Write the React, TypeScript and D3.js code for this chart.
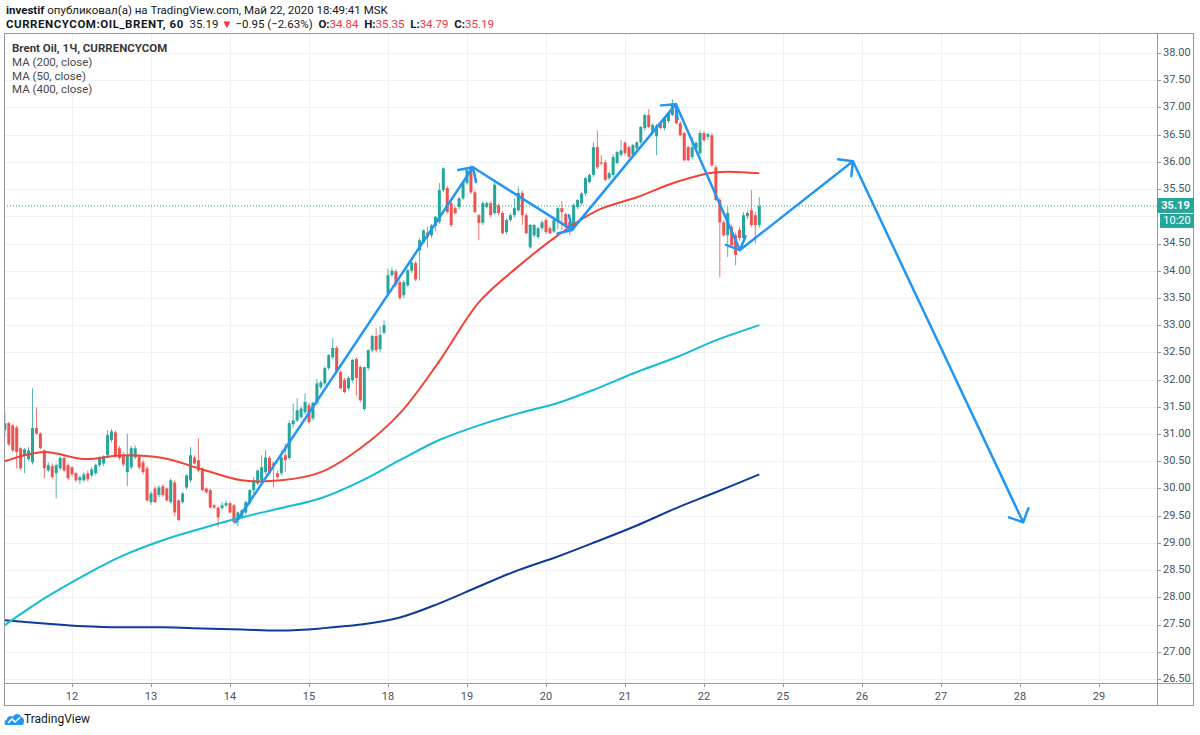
import React from 'react';
import * as d3 from 'd3';

// hourly candles, [open, high, low, close], one array per trading day
type Bar = [number, number, number, number];

const may11: Bar[] = [
  [31.07, 31.40, 30.95, 31.20], [31.20, 31.22, 30.78, 30.81], [31.16, 31.18, 30.67, 30.70],
  [31.12, 31.16, 30.37, 30.67], [30.74, 30.76, 30.33, 30.37], [30.61, 30.74, 30.28, 30.72],
  [30.54, 30.76, 30.50, 30.70], [30.48, 31.84, 30.44, 31.11], [31.11, 31.49, 30.98, 31.01],
  [31.01, 31.03, 30.72, 30.74], [30.70, 30.72, 30.19, 30.37], [30.33, 30.48, 30.30, 30.43],
  [30.41, 30.46, 30.17, 30.21], [30.28, 30.46, 29.82, 30.43], [30.37, 30.59, 30.33, 30.56],
  [30.56, 30.59, 30.30, 30.33], [30.43, 30.46, 30.15, 30.19],
];
const may12: Bar[] = [
  [30.39, 30.41, 30.22, 30.26], [30.28, 30.30, 30.12, 30.15], [30.15, 30.24, 30.08, 30.21],
  [30.15, 30.30, 30.12, 30.26], [30.28, 30.33, 30.13, 30.17], [30.24, 30.39, 30.20, 30.35],
  [30.28, 30.46, 30.24, 30.43], [30.43, 30.59, 30.39, 30.56], [30.46, 30.61, 30.41, 30.59],
  [30.61, 31.07, 30.57, 30.98], [30.89, 31.09, 30.85, 31.05], [31.03, 31.07, 30.57, 30.61],
  [30.74, 30.78, 30.52, 30.56], [30.61, 30.67, 30.40, 30.44], [30.30, 31.01, 30.04, 30.61],
  [30.39, 30.78, 30.35, 30.74], [30.57, 30.79, 30.54, 30.74], [30.59, 30.63, 30.35, 30.39],
  [30.48, 30.52, 30.26, 30.30], [30.37, 30.41, 29.76, 29.78],
];
const may13: Bar[] = [
  [29.75, 29.95, 29.70, 29.91], [30.00, 30.04, 29.73, 29.75], [29.88, 30.06, 29.84, 30.02],
  [30.04, 30.08, 29.85, 29.88], [30.00, 30.02, 29.76, 29.78], [29.75, 30.19, 29.72, 30.15],
  [30.11, 30.15, 29.49, 29.56], [29.78, 29.80, 29.40, 29.42], [29.75, 29.93, 29.72, 29.91],
  [30.02, 30.26, 29.98, 30.24], [30.15, 30.76, 30.11, 30.61], [30.57, 30.61, 30.44, 30.46],
  [30.52, 30.92, 30.30, 30.33], [30.37, 30.39, 29.95, 29.97], [30.00, 30.02, 29.90, 29.93],
  [29.97, 30.00, 29.63, 29.65], [29.69, 29.72, 29.62, 29.65], [29.65, 29.67, 29.29, 29.47],
  [29.64, 29.75, 29.60, 29.69], [29.69, 29.78, 29.66, 29.73],
];
const may14: Bar[] = [
  [29.73, 29.76, 29.54, 29.56], [29.69, 29.72, 29.34, 29.38], [29.42, 29.58, 29.31, 29.56],
  [29.47, 29.62, 29.44, 29.60], [29.56, 29.78, 29.52, 29.75], [29.73, 29.99, 29.70, 29.97],
  [29.97, 30.21, 29.91, 30.15], [30.09, 30.35, 30.06, 30.33], [30.15, 30.61, 30.12, 30.39],
  [30.30, 30.70, 30.26, 30.57], [30.56, 30.60, 30.26, 30.28], [30.46, 30.50, 30.02, 30.43],
  [30.28, 30.33, 30.17, 30.21], [30.28, 30.70, 30.24, 30.57], [30.61, 30.83, 30.30, 30.52],
  [30.56, 31.25, 30.52, 31.20], [31.18, 31.56, 31.12, 31.25], [31.25, 31.66, 31.22, 31.44],
  [31.31, 31.51, 31.28, 31.47], [31.40, 31.75, 31.36, 31.59],
];
const may15: Bar[] = [
  [31.53, 31.57, 31.18, 31.22], [31.29, 31.60, 31.25, 31.57], [31.57, 32.01, 31.53, 31.93],
  [31.86, 31.99, 31.82, 31.95], [31.93, 32.24, 31.90, 32.21], [32.21, 32.47, 32.17, 32.45],
  [32.41, 32.76, 32.38, 32.58], [32.58, 32.62, 32.10, 32.14], [32.14, 32.17, 31.82, 31.84],
  [31.99, 32.03, 31.75, 31.77], [31.84, 32.06, 31.80, 32.03], [31.99, 32.38, 31.95, 32.36],
  [32.38, 32.41, 31.71, 32.03], [32.23, 32.26, 31.58, 31.62], [31.46, 32.24, 31.42, 32.23],
  [32.21, 32.56, 32.17, 32.54], [32.54, 32.82, 32.50, 32.80], [32.80, 32.95, 32.50, 32.54],
  [32.56, 32.98, 32.50, 32.82], [32.86, 33.09, 32.84, 33.00],
];
const may18: Bar[] = [
  [33.58, 34.04, 33.55, 33.92], [33.92, 34.06, 33.88, 34.00], [33.99, 34.03, 33.70, 33.74],
  [33.79, 33.83, 33.47, 33.50], [33.55, 33.83, 33.50, 33.79], [33.73, 34.04, 33.70, 34.01],
  [34.00, 34.19, 33.96, 34.15], [34.14, 34.18, 33.81, 33.84], [34.37, 34.60, 33.82, 34.56],
  [34.52, 34.76, 34.50, 34.74], [34.70, 34.81, 34.43, 34.62], [34.65, 34.86, 34.60, 34.83],
  [34.82, 35.01, 34.73, 34.99], [34.90, 35.61, 34.86, 35.48], [35.48, 35.90, 35.44, 35.88],
  [35.52, 35.56, 35.05, 35.08], [35.24, 35.28, 34.80, 34.84], [35.15, 35.18, 35.03, 35.06],
  [35.17, 35.36, 35.13, 35.33], [35.33, 35.65, 35.30, 35.63],
];
const may19: Bar[] = [
  [35.61, 35.90, 35.58, 35.85], [35.88, 35.94, 35.41, 35.44], [35.44, 35.48, 35.06, 35.08],
  [35.02, 35.04, 34.56, 34.88], [34.88, 35.28, 34.84, 35.24], [35.17, 35.28, 35.14, 35.24],
  [35.24, 35.28, 34.98, 35.02], [35.06, 35.64, 35.02, 35.58], [35.20, 35.24, 35.02, 35.06],
  [35.06, 35.10, 34.67, 34.69], [34.71, 34.96, 34.67, 34.93], [34.93, 35.06, 34.90, 35.02],
  [35.02, 35.33, 34.98, 35.15], [35.11, 35.54, 35.08, 35.43], [35.43, 35.47, 34.84, 35.02],
  [35.02, 35.06, 34.67, 34.69], [34.43, 34.86, 34.41, 34.84], [34.65, 34.86, 34.61, 34.84],
  [34.62, 34.81, 34.58, 34.78], [34.78, 34.92, 34.74, 34.89],
];
const may20: Bar[] = [
  [34.93, 34.97, 34.67, 34.71], [34.78, 34.82, 34.67, 34.69], [34.72, 34.96, 34.70, 34.93],
  [34.90, 35.17, 34.76, 35.15], [35.15, 35.28, 34.75, 35.08], [35.04, 35.07, 34.78, 34.80],
  [34.90, 34.97, 34.65, 34.75], [34.78, 35.23, 34.74, 35.21], [35.17, 35.32, 35.13, 35.30],
  [35.24, 35.45, 35.20, 35.42], [35.42, 35.72, 35.38, 35.70], [35.63, 35.79, 35.60, 35.76],
  [35.76, 36.36, 35.72, 36.27], [36.27, 36.58, 35.87, 35.90], [35.99, 36.12, 35.94, 35.97],
  [35.99, 36.04, 35.64, 35.67], [35.70, 35.82, 35.66, 35.79], [35.76, 36.14, 35.72, 36.09],
  [35.98, 36.20, 35.95, 36.18], [36.13, 36.40, 36.10, 36.21],
];
const may21: Bar[] = [
  [36.35, 36.38, 36.12, 36.16], [36.27, 36.30, 36.06, 36.09], [36.13, 36.33, 36.10, 36.31],
  [36.25, 36.38, 36.22, 36.36], [36.36, 36.66, 36.32, 36.64], [36.62, 36.88, 36.58, 36.86],
  [36.86, 36.97, 36.62, 36.64], [36.53, 36.70, 36.50, 36.68], [36.47, 36.70, 36.12, 36.66],
  [36.71, 36.75, 36.60, 36.62], [36.62, 36.83, 36.58, 36.80], [36.75, 36.92, 36.71, 36.90],
  [36.86, 37.15, 36.84, 37.08], [37.01, 37.08, 36.69, 36.71], [36.71, 36.75, 36.47, 36.49],
  [36.53, 36.56, 36.01, 36.03], [36.27, 36.30, 36.01, 36.03], [36.09, 36.46, 36.05, 36.27],
  [36.25, 36.38, 36.22, 36.35], [36.16, 36.58, 36.12, 36.53],
];
const may22: Bar[] = [
  [36.53, 36.56, 36.36, 36.40], [36.46, 36.53, 36.40, 36.51], [36.49, 36.53, 35.90, 35.94],
  [35.90, 35.95, 35.28, 35.30], [35.30, 35.34, 33.88, 34.89], [34.89, 34.93, 34.63, 34.65],
  [34.65, 35.17, 34.25, 35.06], [34.80, 34.85, 34.42, 34.47], [34.65, 34.70, 34.10, 34.29],
  [34.75, 34.80, 34.55, 34.60], [34.60, 35.08, 34.56, 35.02], [35.00, 35.10, 34.95, 35.06],
  [35.11, 35.48, 34.80, 34.84], [35.02, 35.08, 34.50, 34.84], [34.84, 35.35, 34.79, 35.19],
];

// time axis: bar index where each day starts
const dayLabels = ['12', '13', '14', '15', '18', '19', '20', '21', '22', '25', '26', '27', '28', '29'];
const dayStarts = [17, 37, 57, 77, 97, 117, 137, 157, 177, 197, 217, 237, 257, 277];

// moving averages read at these bar indexes
const maIdx = [0, 10, 20, 30, 40, 50, 60, 70, 80, 90, 100, 110, 120, 130, 140, 150, 160, 170, 180, 191];
const ma50 = [30.50, 30.67, 30.54, 30.61, 30.56, 30.35, 30.15, 30.15, 30.30, 30.74, 31.38, 32.34, 33.42, 34.08, 34.65, 35.11, 35.35, 35.63, 35.81, 35.79];
const ma200 = [27.49, 27.98, 28.40, 28.77, 29.05, 29.27, 29.47, 29.64, 29.82, 30.13, 30.52, 30.89, 31.16, 31.38, 31.57, 31.84, 32.14, 32.41, 32.72, 33.00];
const ma400 = [27.58, 27.52, 27.47, 27.45, 27.45, 27.43, 27.41, 27.39, 27.43, 27.50, 27.63, 27.89, 28.20, 28.50, 28.75, 29.03, 29.32, 29.64, 29.93, 30.26];

// hand-drawn arrow path (bar index, price)
const arrowIdx = [58.5, 118.5, 143.6, 169.9, 186.1, 214.7, 257.8];
const arrowPrice = [29.38, 35.90, 34.75, 37.06, 34.38, 36.01, 29.38];

const lastPrice = 35.19;

const UP = '#26a69a';
const DOWN = '#ef5350';
const GRID = '#eef1f6';
const BORDER = '#9598a1';
const TXT = '#4c525e';
const RED = '#f23645';
const FONT = 'Roboto, "Open Sans", sans-serif';

const plot = { left: 4, top: 33, right: 1157, bottom: 683 };

const App = () => {
  const bars = [may11, may12, may13, may14, may15, may18, may19, may20, may21, may22].flat();

  const x = d3.scaleLinear().domain([0, 260]).range([4.85, 1031.85]);
  const y = d3.scaleLinear().domain([26.5, 38]).range([679, 53]);

  const priceTicks = d3.range(26.5, 38.01, 0.5);
  const tagY = y(lastPrice);

  const maLine = (vals: number[]) =>
    d3.line<number>()
      .x((_, k) => x(maIdx[k]))
      .y(v => y(v))
      .curve(d3.curveCatmullRom)(vals) || '';

  const arrows = arrowIdx.slice(1).map((idx, k) => {
    const x0 = x(arrowIdx[k]), y0 = y(arrowPrice[k]);
    const x1 = x(idx), y1 = y(arrowPrice[k + 1]);
    const back = Math.atan2(y0 - y1, x0 - x1);
    const a = 0.8, len = 15;
    const h1 = [x1 + len * Math.cos(back + a), y1 + len * Math.sin(back + a)];
    const h2 = [x1 + len * Math.cos(back - a), y1 + len * Math.sin(back - a)];
    return `M${x0},${y0}L${x1},${y1}M${h1[0]},${h1[1]}L${x1},${y1}L${h2[0]},${h2[1]}`;
  });

  return (
    <div style={{ position: 'absolute', left: 0, top: 0 }}>
      <svg width={1200} height={735} style={{ display: 'block', background: '#fff' }}>
        <defs>
          <clipPath id="plotClip">
            <rect x={plot.left} y={plot.top} width={plot.right - plot.left} height={plot.bottom - plot.top} />
          </clipPath>
        </defs>

        {/* header */}
        <text x={6} y={14} fontFamily={FONT} fontSize={11.5} fill="#131722">
          <tspan fontWeight="bold">investif</tspan>
          <tspan> опубликовал(а) на TradingView.com, Май 22, 2020 18:49:41 MSK</tspan>
        </text>
        <text x={6} y={28} fontFamily={FONT} fontSize={11.5} fill="#131722" style={{ whiteSpace: 'pre' }}>
          <tspan fontWeight="bold" letterSpacing={0.55}>CURRENCYCOM:OIL_BRENT, 60</tspan>
          <tspan>  35.19 </tspan>
          <tspan fill={RED}>▼</tspan>
          <tspan> −0.95 (−2.63%)  </tspan>
          <tspan fontWeight="bold">O:</tspan><tspan fill={RED}>34.84  </tspan>
          <tspan fontWeight="bold">H:</tspan><tspan fill={RED}>35.35  </tspan>
          <tspan fontWeight="bold">L:</tspan><tspan fill={RED}>34.79  </tspan>
          <tspan fontWeight="bold">C:</tspan><tspan fill={RED}>35.19</tspan>
        </text>

        {/* grid */}
        <g>
          {priceTicks.map(p => (
            <line key={'h' + p} x1={plot.left} x2={plot.right} y1={Math.round(y(p)) + 0.5} y2={Math.round(y(p)) + 0.5} stroke={GRID} />
          ))}
          {dayStarts.map(d => (
            <line key={'v' + d} x1={Math.round(x(d)) + 0.5} x2={Math.round(x(d)) + 0.5} y1={plot.top} y2={plot.bottom} stroke={GRID} />
          ))}
        </g>

        {/* legend */}
        <g fontFamily={FONT} fontSize={11.5} fill="#4a4a4a">
          <text x={12} y={52} fontWeight="bold" fill="#3a3a3a">Brent Oil, 1Ч, CURRENCYCOM</text>
          <text x={12} y={66}>MA (200, close)</text>
          <text x={12} y={80}>MA (50, close)</text>
          <text x={12} y={93}>MA (400, close)</text>
        </g>

        <g clipPath="url(#plotClip)">
          {/* last price line */}
          <line x1={plot.left} x2={plot.right} y1={tagY} y2={tagY} stroke={UP} strokeDasharray="1,2" />

          {/* candles */}
          {bars.map((b, i) => {
            const [o, h, l, c] = b;
            const col = c >= o ? UP : DOWN;
            const cx = x(i);
            const top = y(Math.max(o, c));
            const bh = Math.max(1, y(Math.min(o, c)) - top);
            return (
              <g key={i}>
                <line x1={cx} x2={cx} y1={y(h)} y2={y(l)} stroke={col} strokeWidth={1} opacity={0.8} />
                <rect x={cx - 1.5} y={top} width={3} height={bh} fill={col} />
              </g>
            );
          })}

          {/* moving averages */}
          <path d={maLine(ma400)} fill="none" stroke="#0f3a9c" strokeWidth={2} />
          <path d={maLine(ma200)} fill="none" stroke="#13bcd6" strokeWidth={2} />
          <path d={maLine(ma50)} fill="none" stroke="#f44336" strokeWidth={2} />

          {/* drawn arrows */}
          {arrows.map((d, k) => (
            <path key={k} d={d} fill="none" stroke="#2196f3" strokeWidth={2.5} strokeLinecap="round" strokeLinejoin="round" />
          ))}
        </g>

        {/* frame and axes */}
        <rect x={4.5} y={33.5} width={1189} height={672} fill="none" stroke={BORDER} />
        <line x1={1157.5} x2={1157.5} y1={33} y2={706} stroke={BORDER} />
        <line x1={4} x2={1194} y1={683.5} y2={683.5} stroke={BORDER} />

        {/* price axis; the tick hidden under the last-price tag is left out */}
        <g fontFamily={FONT} fontSize={11} fill={TXT}>
          {priceTicks.filter(p => Math.abs(y(p) - tagY - 7) > 14).map(p => (
            <g key={'p' + p}>
              <line x1={1158} x2={1161} y1={Math.round(y(p)) + 0.5} y2={Math.round(y(p)) + 0.5} stroke={BORDER} />
              <text x={1163} y={y(p)} dominantBaseline="middle">{p.toFixed(2)}</text>
            </g>
          ))}
        </g>

        {/* last price tags */}
        <rect x={1157} y={tagY - 8} width={37} height={15} fill={UP} />
        <text x={1175.5} y={tagY} fontFamily={FONT} fontSize={11} fontWeight="bold" fill="#fff" textAnchor="middle" dominantBaseline="middle">35.19</text>
        <rect x={1160} y={tagY + 8} width={34} height={14} fill={UP} />
        <text x={1177} y={tagY + 15.5} fontFamily={FONT} fontSize={11} fill="#fff" textAnchor="middle" dominantBaseline="middle">10:20</text>

        {/* time axis */}
        <g fontFamily={FONT} fontSize={11} fill={TXT}>
          {dayStarts.map((d, k) => (
            <g key={'t' + d}>
              <line x1={Math.round(x(d)) + 0.5} x2={Math.round(x(d)) + 0.5} y1={684} y2={687} stroke={BORDER} />
              <text x={x(d)} y={697} textAnchor="middle" dominantBaseline="middle">{dayLabels[k]}</text>
            </g>
          ))}
        </g>

        {/* footer logo */}
        <g transform="translate(5,712)">
          <path d="M1,13 C-1,13 -1,8 2,7.5 C2,4 6,3 8,5 C9,1 15,1 16,5 C19,5 20,9 18,13 Z" fill="#2196f3" />
          <path d="M3,11 L7,7 L10,10 L15,5.5" fill="none" stroke="#fff" strokeWidth={1.6} />
        </g>
        <text x={24} y={720} fontFamily={FONT} fontSize={12} fill="#131722" dominantBaseline="middle">TradingView</text>
      </svg>
    </div>
  );
};

export default App;
